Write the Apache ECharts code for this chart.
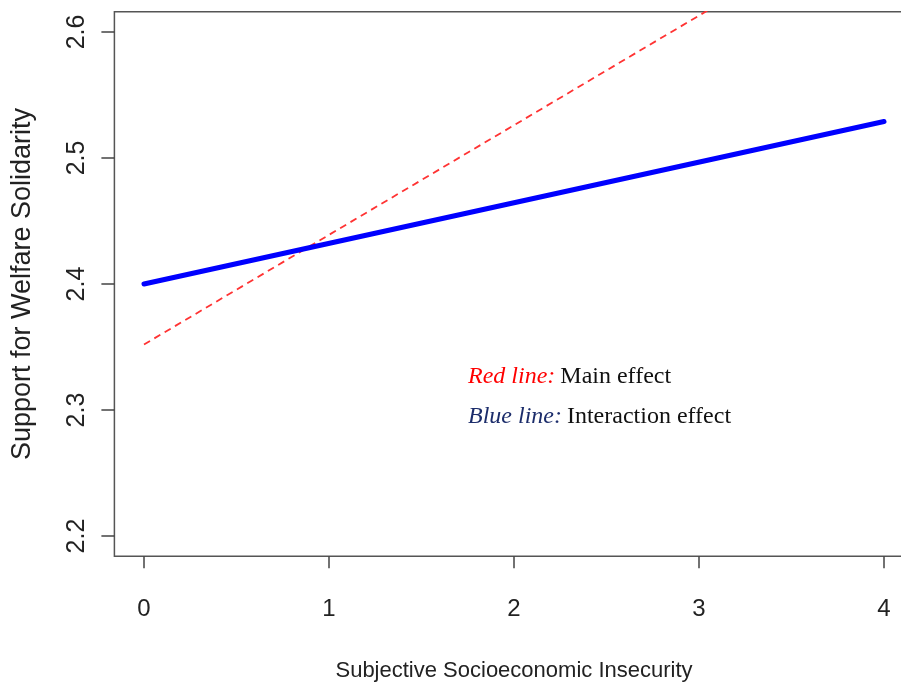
<!DOCTYPE html>
<html>
<head>
<meta charset="utf-8">
<script src="https://cdn.jsdelivr.net/npm/echarts@6/dist/echarts.min.js"></script>
<style>
  html, body { margin: 0; padding: 0; background: #fff; }
  #chart { width: 901px; height: 685px; }
</style>
</head>
<body>
<div id="chart"></div>
<script>
// Predicted welfare solidarity across subjective socioeconomic insecurity
const insecurity = [0, 4];
const mainEffect = [2.352, 2.700];        // red dashed line
const interactionEffect = [2.400, 2.529]; // blue solid line
const xTicks = [0, 1, 2, 3, 4];
const yTicks = [2.2, 2.3, 2.4, 2.5, 2.6];

const pairs = (xs, ys) => xs.map((x, i) => [x, ys[i]]);

const chart = echarts.init(document.getElementById('chart'), null, { renderer: 'canvas' });

const axisFont = 'Liberation Sans, Arial, Helvetica, sans-serif';
const serifFont = 'Liberation Serif, Times New Roman, serif';

chart.setOption({
  animation: false,
  backgroundColor: '#ffffff',
  grid: {
    left: 114.4, top: 11.8, width: 799.2, height: 544.4,
    outerBoundsMode: 'none', containLabel: false,
    show: true, borderColor: '#555', borderWidth: 1.5, backgroundColor: 'transparent'
  },
  title: {
    left: 463, top: 352,
    text: '{ri|Red line:} {n|Main effect}\n{bi|Blue line:} {n|Interaction effect}',
    textStyle: {
      fontWeight: 'normal',
      lineHeight: 40,
      rich: {
        ri: { fontFamily: serifFont, fontStyle: 'italic', fontWeight: 'normal', fontSize: 24, color: '#ff0000', lineHeight: 40 },
        bi: { fontFamily: serifFont, fontStyle: 'italic', fontWeight: 'normal', fontSize: 24, color: '#1c2d6b', lineHeight: 40 },
        n:  { fontFamily: serifFont, fontWeight: 'normal', fontSize: 24, color: '#111', lineHeight: 40 }
      }
    }
  },
  xAxis: {
    type: 'value', min: -0.16, max: 4.16,
    name: 'Subjective Socioeconomic Insecurity',
    nameLocation: 'middle', nameGap: 104,
    nameTextStyle: { fontFamily: axisFont, fontSize: 22, color: '#222' },
    axisLine: { show: false, onZero: false },
    splitLine: { show: false },
    axisTick: { show: true, inside: false, length: 12, customValues: xTicks,
      lineStyle: { color: '#444', width: 1.5 } },
    axisLabel: { customValues: xTicks, margin: 41, fontFamily: axisFont, fontSize: 24, color: '#222',
      formatter: v => String(v) }
  },
  yAxis: {
    type: 'value', min: 2.184, max: 2.616,
    name: 'Support for Welfare Solidarity',
    nameLocation: 'middle', nameGap: 78, nameRotate: 90,
    nameTextStyle: { fontFamily: axisFont, fontSize: 27, color: '#222' },
    axisLine: { show: false, onZero: false },
    splitLine: { show: false },
    axisTick: { show: true, inside: false, length: 13, customValues: yTicks,
      lineStyle: { color: '#444', width: 1.5 } },
    axisLabel: { customValues: yTicks, rotate: 90, margin: 25, fontFamily: axisFont, fontSize: 25, color: '#222',
      formatter: v => v.toFixed(1) }
  },
  series: [
    {
      name: 'Main effect', type: 'line', data: pairs(insecurity, mainEffect),
      symbol: 'none', clip: true,
      lineStyle: { color: '#ff3333', width: 1.8, type: [7, 5] }
    },
    {
      name: 'Interaction effect', type: 'line', data: pairs(insecurity, interactionEffect),
      symbol: 'none', clip: true,
      lineStyle: { color: '#0000ff', width: 5, cap: 'round' }
    }
  ]
});
</script>
</body>
</html>
